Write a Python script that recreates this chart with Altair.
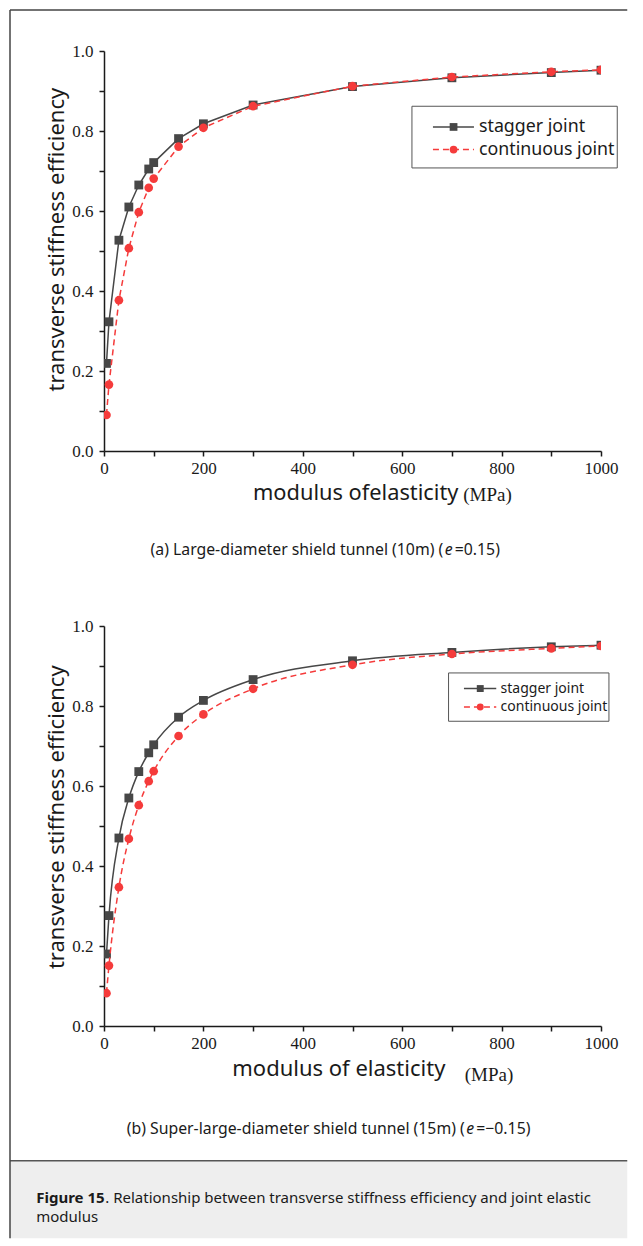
import altair as alt
import pandas as pd

# ---------------- data ----------------
modulus = [5, 10, 30, 50, 70, 90, 100, 150, 200, 300, 500, 700, 900, 1000]
series_names = ["stagger joint", "continuous joint"]

a_stagger = [0.219, 0.323, 0.527, 0.610, 0.665, 0.705, 0.721, 0.781, 0.818, 0.865, 0.911, 0.933, 0.946, 0.952]
a_continuous = [0.090, 0.166, 0.377, 0.507, 0.597, 0.658, 0.681, 0.761, 0.808, 0.862, 0.912, 0.935, 0.948, 0.953]

b_stagger = [0.180, 0.276, 0.470, 0.570, 0.636, 0.683, 0.703, 0.772, 0.814, 0.866, 0.913, 0.934, 0.948, 0.952]
b_continuous = [0.082, 0.151, 0.347, 0.468, 0.552, 0.612, 0.637, 0.725, 0.779, 0.843, 0.903, 0.930, 0.944, 0.950]

x_ticks = [0, 100, 200, 300, 400, 500, 600, 700, 800, 900, 1000]
y_ticks = [0.0, 0.1, 0.2, 0.3, 0.4, 0.5, 0.6, 0.7, 0.8, 0.9, 1.0]

y_title = "transverse stiffness efficiency"
x_title_a = ["modulus ofelasticity", "(MPa)"]
x_title_b = ["modulus of elasticity", "(MPa)"]
caption_a = ["(a) Large-diameter shield tunnel (10m) (", "e", "=0.15)"]
caption_b = ["(b) Super-large-diameter shield tunnel (15m) (", "e", "=\u22120.15)"]
fig_caption = ["Figure 15", ". Relationship between transverse stiffness efficiency and joint elastic", "modulus"]

# ---------------- style ----------------
GRAY = "#474747"
RED = "#f53b3b"
SERIF = "Liberation Serif"
SANS = "Noto Sans"
INK = "#1a1a1a"

W, H = 497, 400
ORIGIN_A = (102.75, 49.75)
ORIGIN_B = (102.75, 624.75)
RIGHT = 626      # right edge of the frame (page px)
BOTTOM = 1237    # bottom edge of the caption box (page px)

one = pd.DataFrame({"k": [0]})


def long_df(s, c):
    return pd.DataFrame({
        "modulus": modulus + modulus,
        "efficiency": s + c,
        "series": [series_names[0]] * len(modulus) + [series_names[1]] * len(modulus),
    })


x_enc = alt.X(
    "modulus:Q",
    scale=alt.Scale(domain=[0, 1000], nice=False),
    axis=alt.Axis(values=x_ticks, format="d", title=None,
                  labelExpr="datum.value % 200 == 0 ? datum.label : ''",
                  labelFlush=False, labelOverlap=False, labelPadding=4),
)
y_enc = alt.Y(
    "efficiency:Q",
    scale=alt.Scale(domain=[0, 1], nice=False),
    axis=alt.Axis(values=y_ticks, format=".1f", title=None,
                  labelExpr="round(datum.value * 10) % 2 == 0 ? datum.label : ''",
                  labelFlush=False, labelOverlap=False, labelPadding=6),
)
color_enc = alt.Color("series:N", scale=alt.Scale(domain=series_names, range=[GRAY, RED]), legend=None)


def series_layers(df, interp):
    base = alt.Chart(df).encode(x=x_enc, y=y_enc, color=color_enc)
    out = []
    specs = [(series_names[0], None, "square", 78), (series_names[1], [6, 4], "circle", 75)]
    for name, dash, shape, size in specs:
        b = base.transform_filter(alt.datum.series == name)
        if dash:
            ln = b.mark_line(strokeWidth=1.5, strokeDash=dash, interpolate=interp, clip=True)
        else:
            ln = b.mark_line(strokeWidth=1.5, interpolate=interp, clip=True)
        out.append(ln)
        out.append(b.mark_point(shape=shape, size=size, filled=True, opacity=1, strokeWidth=0, clip=True))
    return out


def rel(origin, px, py):
    return px - origin[0], py - origin[1]


def text(origin, t, px, py, size, font=SANS, align="left", baseline="alphabetic",
         angle=0, weight="normal", style="normal", color=INK):
    x, y = rel(origin, px, py)
    return alt.Chart(one).mark_text(
        text=t, font=font, fontSize=size, align=align, baseline=baseline,
        angle=angle, fontWeight=weight, fontStyle=style, color=color,
    ).encode(x=alt.value(x), y=alt.value(y))


def hrule(origin, px1, px2, py, color, width, dash=None):
    x1, y = rel(origin, px1, py)
    x2, _ = rel(origin, px2, py)
    kw = dict(color=color, strokeWidth=width)
    if dash:
        kw["strokeDash"] = dash
    return alt.Chart(one).mark_rule(**kw).encode(x=alt.value(x1), x2=alt.value(x2), y=alt.value(y))


def vrule(origin, px, py1, py2, color, width):
    x, y1 = rel(origin, px, py1)
    _, y2 = rel(origin, px, py2)
    return alt.Chart(one).mark_rule(color=color, strokeWidth=width).encode(
        x=alt.value(x), y=alt.value(y1), y2=alt.value(y2))


def box(origin, px1, py1, px2, py2, fill, stroke=None, sw=1):
    x1, y1 = rel(origin, px1, py1)
    x2, y2 = rel(origin, px2, py2)
    kw = dict(fill=fill)
    if stroke:
        kw["stroke"] = stroke
        kw["strokeWidth"] = sw
    else:
        kw["strokeWidth"] = 0
    return alt.Chart(one).mark_rect(**kw).encode(
        x=alt.value(x1), x2=alt.value(x2), y=alt.value(y1), y2=alt.value(y2))


def marker(origin, px, py, shape, size, color):
    x, y = rel(origin, px, py)
    return alt.Chart(one).mark_point(shape=shape, size=size, filled=True, opacity=1,
                                     strokeWidth=0, color=color).encode(
        x=alt.value(x), y=alt.value(y))


def legend(origin, bx1, by1, bx2, by2, rows, lx1, lx2, mx, tx, tsize, msize):
    layers = [box(origin, bx1, by1, bx2, by2, "white", "#555555", 1)]
    layers.append(hrule(origin, lx1, lx2, rows[0], GRAY, 1.5))
    layers.append(marker(origin, mx, rows[0], "square", msize, GRAY))
    layers.append(text(origin, series_names[0], tx, rows[0], tsize, baseline="middle"))
    layers.append(hrule(origin, lx1, lx2, rows[1], RED, 1.5, dash=[6, 4]))
    layers.append(marker(origin, mx, rows[1], "circle", msize, RED))
    layers.append(text(origin, series_names[1], tx, rows[1], tsize, baseline="middle"))
    return layers


def caption(origin, parts, e_x, py, size):
    return [
        text(origin, parts[0], e_x - 1.5, py, size, align="right", baseline="middle"),
        text(origin, parts[1], e_x, py, size, baseline="middle", style="italic"),
        text(origin, parts[2], e_x + 10, py, size, baseline="middle"),
    ]


# ---------------- panel A ----------------
oa = ORIGIN_A
panel_a = alt.layer(
    *series_layers(long_df(a_stagger, a_continuous), "linear"),
    *legend(oa, 410.7, 105, 616, 166.7, [125.7, 148.3], 431.7, 472.7, 452.3, 477.7, 17.8, 60),
    text(oa, y_title, 62.5, 238.4, 22, angle=270, align="center"),
    text(oa, x_title_a[0], 251.7, 498.3, 21.8),
    text(oa, x_title_a[1], 462, 500, 19, font=SERIF),
    *caption(oa, caption_a, 443.5, 548.3, 15.8),
).properties(width=W, height=H)

# ---------------- panel B ----------------
ob = ORIGIN_B
panel_b = alt.layer(
    box(ob, 8.75, 1159.5, RIGHT, BOTTOM, "#eeeeee"),
    hrule(ob, 8.75, RIGHT, 1159.5, "#555555", 1.5),
    hrule(ob, 8.75, RIGHT, 8.75, "#444444", 1.5),
    vrule(ob, 8.75, 8.75, BOTTOM, "#444444", 1.5),
    *series_layers(long_df(b_stagger, b_continuous), "monotone"),
    *legend(ob, 447.3, 671.7, 607.7, 720, [687.3, 705.7], 462.7, 495, 479, 499.3, 14, 48),
    text(ob, y_title, 62.5, 816, 22, angle=270, align="center"),
    text(ob, x_title_b[0], 231, 1074.3, 22),
    text(ob, x_title_b[1], 463.5, 1080, 19, font=SERIF),
    *caption(ob, caption_b, 465, 1128, 15.8),
    text(ob, fig_caption[0], 35, 1196.7, 15, baseline="middle", weight="bold"),
    text(ob, fig_caption[1], 104, 1196.7, 15, baseline="middle"),
    text(ob, fig_caption[2], 35, 1216, 15, baseline="middle"),
).properties(width=W, height=H)

chart = alt.vconcat(panel_a, panel_b, spacing=175, bounds="flush").properties(
    padding=0, background="white"
).configure_view(stroke="transparent").configure_axis(
    grid=False,
    domainColor=INK, domainWidth=1.5,
    tickColor=INK, tickWidth=1.5, tickSize=5,
    labelFont=SERIF, labelFontSize=17, labelColor=INK,
)

chart.save("out.html", embed_options={"renderer": "svg", "actions": False})
